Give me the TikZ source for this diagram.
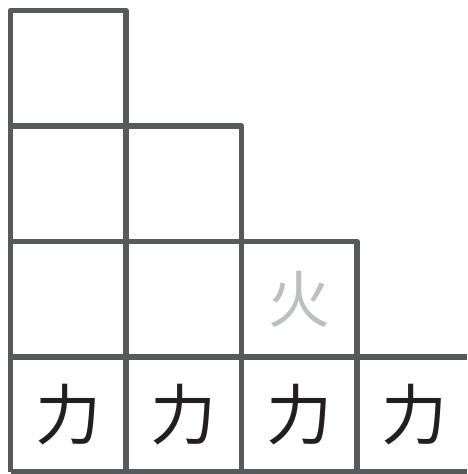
\documentclass[tikz,border=0pt]{standalone}
\usepackage{fontspec}
\newfontfamily\cjk{Noto Sans CJK JP}
\definecolor{gridgray}{HTML}{58595B}
\definecolor{lightch}{HTML}{BCBEC0}
\definecolor{darkch}{HTML}{231F20}
\begin{document}
\begin{tikzpicture}[x=1pt,y=-1pt,
  gridline/.style={draw=gridgray,line width=5.5pt,line join=round},
  cellbox/.style={minimum width=115.5pt,minimum height=115.5pt,inner sep=0pt,draw=none},
  charA/.style={font=\cjk\fontsize{66}{66}\selectfont,text=darkch},
  charB/.style={font=\cjk\fontsize{62}{62}\selectfont,text=lightch}]
\useasboundingbox (0,0) rectangle (467,474);
% cells
\node[cellbox] (c11) at (68.25,68.25) {};
\node[cellbox] (c21) at (68.25,183.75) {};
\node[cellbox] (c22) at (183.75,183.75) {};
\node[cellbox] (c31) at (68.25,299.25) {};
\node[cellbox] (c32) at (183.75,299.25) {};
\node[cellbox,charB] (c33) at (299.25,299.25) {火};
\node[cellbox,charA] (c41) at (68.25,415) {力};
\node[cellbox,charA] (c42) at (183.75,415) {力};
\node[cellbox,charA] (c43) at (299.25,415) {力};
\node[cellbox,charA] (c44) at (414.75,415) {力};
% grid
\draw[gridline] (10.5,471.5) -- (10.5,10.5) -- (126,10.5) -- (126,471.5);
\draw[gridline] (10.5,126) -- (241.5,126) -- (241.5,471.5);
\draw[gridline] (10.5,241.5) -- (357,241.5) -- (357,471.5);
\draw[gridline] (10.5,357) -- (467,357);
\draw[gridline] (10.5,471.5) -- (467,471.5);
\end{tikzpicture}
\end{document}
